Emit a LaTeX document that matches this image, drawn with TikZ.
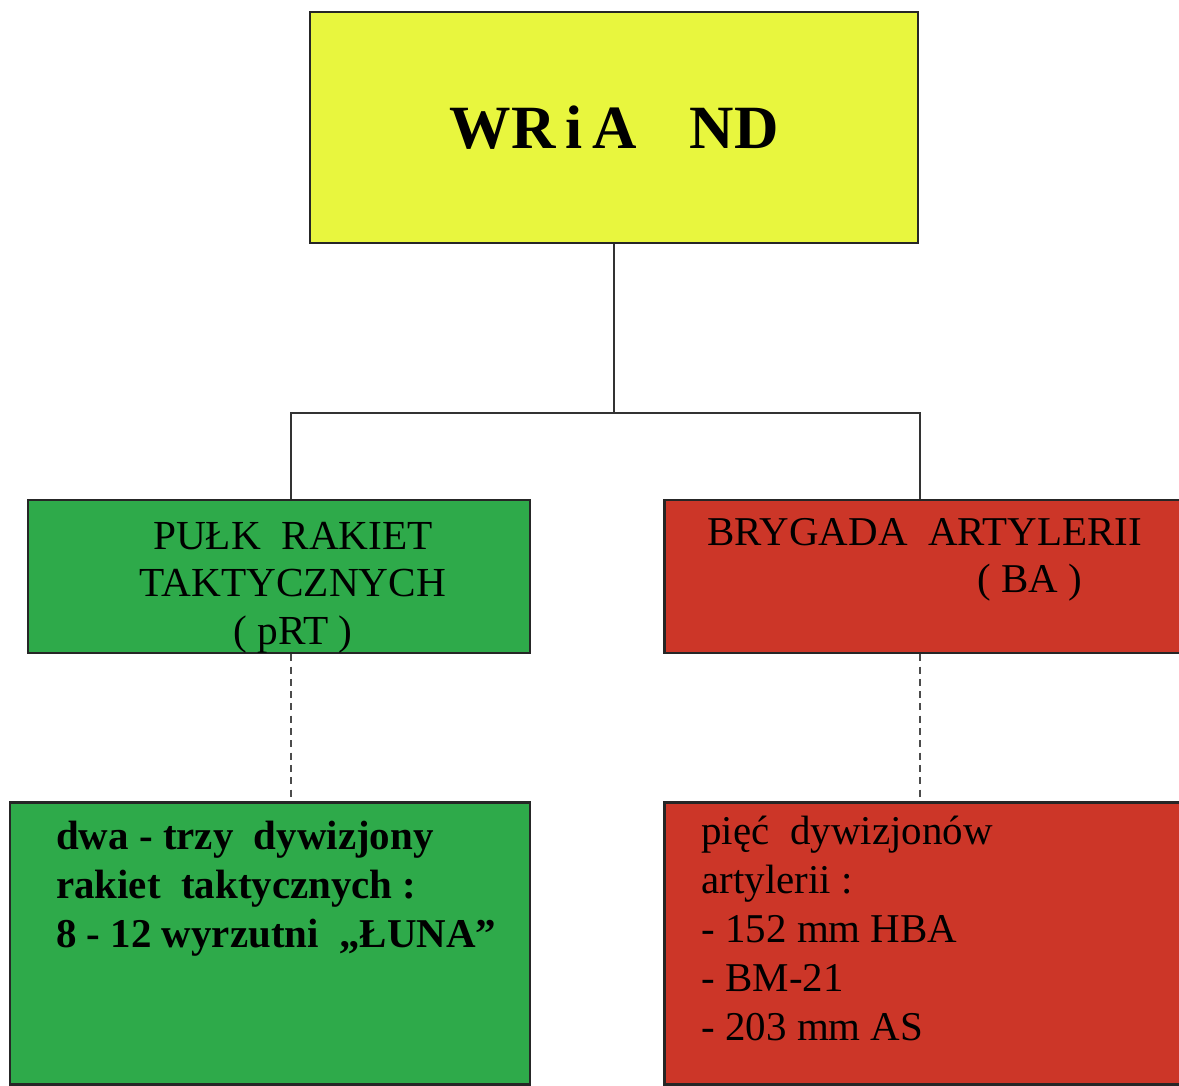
\documentclass[tikz,border=0pt]{standalone}
\usepackage{fontspec}
\setmainfont{Liberation Serif}
\usepackage{xcolor}
\usetikzlibrary{positioning}

\definecolor{wriayellow}{RGB}{232,246,62}
\definecolor{prtgreen}{RGB}{46,170,74}
\definecolor{bared}{RGB}{204,54,40}

\begin{document}
\begin{tikzpicture}[
    x=0.02cm, y=-0.02cm,
    unit/.style={rectangle, draw=black!85, line width=1.4pt, inner sep=0pt},
    hq/.style={unit, fill=wriayellow, minimum width=12.16cm, minimum height=4.62cm, font=\fontsize{35}{40}\selectfont\bfseries},
    midbox/.style={unit, minimum height=3.06cm},
    lowbox/.style={unit, minimum height=5.64cm},
    caption/.style={inner sep=0pt, align=left, anchor=base west, font=\fontsize{23.3}{27.8}\selectfont},
    link/.style={line width=1pt, draw=black!80},
    sublink/.style={line width=0.6pt, draw=black!70, dash pattern=on 4pt off 3pt}
]
    \useasboundingbox (0,0) rectangle (1179,1085);

    % Command
    \node[hq] (wria) at (614,127.5) {WR\,i\,A\hspace{0.85em}ND};

    % Subordinate units (caption anchor = baseline of last line)
    \node[midbox, fill=prtgreen, minimum width=10.04cm] (prt) at (279,576.5) {};
    \node[caption, align=center, anchor=base, font=\fontsize{23.5}{27}\selectfont] (prtname) at ([shift={(14,-10)}]prt.south)
        {PUŁK\ \ RAKIET\\TAKTYCZNYCH\\( pRT )};
    \node[midbox, fill=bared, minimum width=10.46cm, right=2.64cm of prt] (ba) {};
    \node[caption, font=\fontsize{23.3}{26.8}\selectfont] (baname) at ([shift={(44,94)}]ba.north west)
        {BRYGADA\ \ ARTYLERII\\\hspace*{5.4cm}( BA )};

    % Composition
    \node[lowbox, fill=prtgreen, minimum width=10.4cm, below=2.94cm of prt.south east, anchor=north east] (prtlow) {};
    \node[caption, font=\fontsize{23.3}{27.8}\selectfont\bfseries] (prtcomp) at ([shift={(47,146)}]prtlow.north west)
        {dwa - trzy\ \ dywizjony\\rakiet\ \ taktycznych :\\8 - 12 wyrzutni\ \ „ŁUNA”};
    \node[lowbox, fill=bared, minimum width=10.46cm, below=2.94cm of ba.south west, anchor=north west] (balow) {};
    \node[caption] (bacomp) at ([shift={(38,239)}]balow.north west)
        {pięć\ \ dywizjonów\\artylerii :\\- 152 mm HBA\\- BM-21\\- 203 mm AS};

    % Connectors
    \coordinate (busL) at (291,413);
    \coordinate (busR) at (920,413);
    \draw[link] (wria.south) -- (wria.south |- busL);
    \draw[link] (busL |- prt.north) |- (busR) -- (busR |- ba.north);
    \draw[sublink] (busL |- prt.south) -- (busL |- prtlow.north);
    \draw[sublink] (busR |- ba.south) -- (busR |- balow.north);
\end{tikzpicture}
\end{document}
